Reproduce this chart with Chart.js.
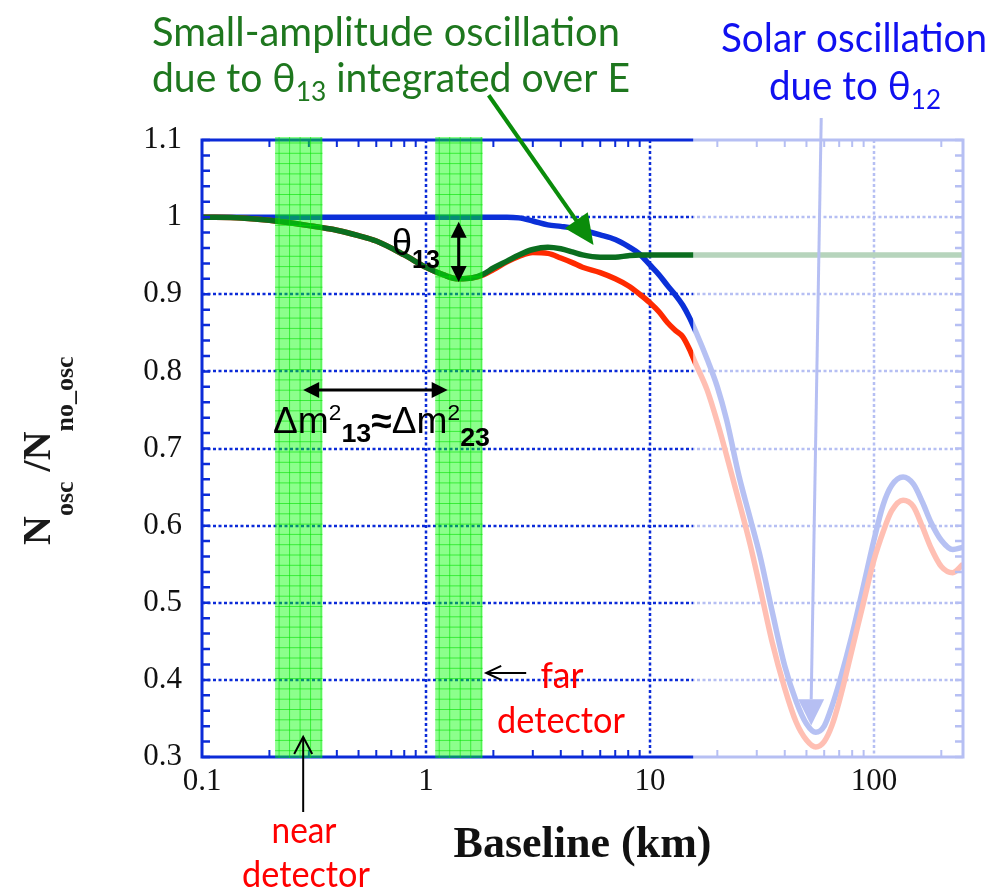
<!DOCTYPE html>
<html>
<head>
<meta charset="utf-8">
<script src="https://cdn.jsdelivr.net/npm/chart.js@4.4.0/dist/chart.umd.min.js"></script>
<style>
  body { margin: 0; background: #fff; }
  #wrap { width: 993px; height: 890px; }
</style>
</head>
<body>
<div id="wrap"><canvas id="osc" width="993" height="890"></canvas></div>
<script>
// baseline (km), shared by the three curves
const baselineKm = [0.1, 0.15, 0.2, 0.3, 0.4, 0.5, 0.6, 0.8,
  1.0, 1.2, 1.4, 1.6, 1.8, 2.0, 2.3, 2.6, 3.0, 3.5, 4.0, 4.5,
  5.0, 6.0, 7.0, 8.0, 9.0, 10, 11, 12, 13, 14, 15, 16, 18, 20, 22, 25, 28, 31, 35,
  40, 45, 50, 55, 60, 65, 70, 80, 90, 100, 110, 120, 135, 150, 165, 180, 200, 225, 250];

// N_osc / N_no_osc with theta13 only
const theta13Only = [1.000, 0.999, 0.996, 0.989, 0.983, 0.976, 0.969, 0.951,
  0.935, 0.925, 0.920, 0.921, 0.926, 0.934, 0.943, 0.951, 0.958, 0.961, 0.959, 0.955,
  0.951, 0.948, 0.948, 0.950, 0.951, 0.951, 0.951, 0.951, 0.951, 0.951, 0.951, 0.951, 0.951, 0.951, 0.951, 0.951, 0.951, 0.951, 0.951,
  0.951, 0.951, 0.951, 0.951, 0.951, 0.951, 0.951, 0.951, 0.951, 0.951, 0.951, 0.951, 0.951, 0.951, 0.951, 0.951, 0.951, 0.951, 0.951];

// theta13 + theta12
const bothAngles = [1.000, 0.999, 0.996, 0.989, 0.983, 0.976, 0.969, 0.951,
  0.935, 0.925, 0.920, 0.921, 0.925, 0.932, 0.942, 0.949, 0.954, 0.953, 0.947, 0.941,
  0.935, 0.928, 0.920, 0.911, 0.900, 0.889, 0.877, 0.863, 0.853, 0.845, 0.829, 0.810, 0.776, 0.734, 0.691, 0.631, 0.576, 0.520, 0.451,
  0.389, 0.345, 0.322, 0.313, 0.320, 0.341, 0.372, 0.440, 0.501, 0.555, 0.592, 0.619, 0.633, 0.625, 0.598, 0.571, 0.547, 0.539, 0.550];

// theta12 (solar) only
const theta12Only = [1.000, 1.000, 1.000, 1.000, 1.000, 1.000, 1.000, 1.000,
  1.000, 1.000, 1.000, 1.000, 1.000, 1.000, 1.000, 0.999, 0.995, 0.990, 0.988, 0.986,
  0.983, 0.977, 0.971, 0.962, 0.952, 0.938, 0.925, 0.911, 0.899, 0.886, 0.870, 0.852, 0.816, 0.780, 0.737, 0.664, 0.610, 0.561, 0.491,
  0.418, 0.372, 0.343, 0.332, 0.340, 0.366, 0.396, 0.459, 0.523, 0.581, 0.627, 0.652, 0.663, 0.654, 0.630, 0.604, 0.581, 0.569, 0.572];

// detector positions (km)
const nearBand = [0.212, 0.345];
const farBand = [1.10, 1.79];
// beyond this baseline everything is drawn washed out
const fadeFromKm = 15.6;

const axisBlue = '#0b2bd8';

function isDecade(v) {
  const l = Math.log10(v);
  return Math.abs(l - Math.round(l)) < 1e-6;
}

// draws a row of text pieces (sub/superscripts), optionally squeezed to a width
function drawRuns(ctx, x, y, parts, opts) {
  const o = opts || {};
  let w = 0;
  parts.forEach(p => { ctx.font = p.font; w += ctx.measureText(p.t).width; });
  const sx = o.width ? o.width / w : 1;
  let left = x;
  if (o.align === 'center') left = x - w * sx / 2;
  ctx.save();
  ctx.translate(left, y);
  ctx.scale(sx, 1);
  let cx = 0;
  parts.forEach(p => {
    ctx.font = p.font;
    ctx.fillStyle = p.color || o.color || '#000';
    ctx.fillText(p.t, cx, p.dy || 0);
    cx += ctx.measureText(p.t).width;
  });
  ctx.restore();
}

function arrowHead(ctx, x1, y1, x2, y2, len, half) {
  const a = Math.atan2(y2 - y1, x2 - x1);
  ctx.beginPath();
  ctx.moveTo(x2, y2);
  ctx.lineTo(x2 - len * Math.cos(a) + half * Math.sin(a), y2 - len * Math.sin(a) - half * Math.cos(a));
  ctx.lineTo(x2 - len * Math.cos(a) - half * Math.sin(a), y2 - len * Math.sin(a) + half * Math.cos(a));
  ctx.closePath();
  ctx.fill();
}

function openHead(ctx, x1, y1, x2, y2, len, half) {
  const a = Math.atan2(y2 - y1, x2 - x1);
  ctx.beginPath();
  ctx.moveTo(x2 - len * Math.cos(a) + half * Math.sin(a), y2 - len * Math.sin(a) - half * Math.cos(a));
  ctx.lineTo(x2, y2);
  ctx.lineTo(x2 - len * Math.cos(a) - half * Math.sin(a), y2 - len * Math.sin(a) + half * Math.cos(a));
  ctx.stroke();
}

const decor = {
  id: 'decor',
  beforeDatasetsDraw(chart) {
    const { ctx, chartArea: a, scales: { x, y } } = chart;
    ctx.save();
    ctx.strokeStyle = axisBlue;
    ctx.lineWidth = 2.5;
    ctx.setLineDash([3, 2.5]);
    y.ticks.forEach(t => {
      if (t.value < 0.31 || t.value > 1.09) return;
      const py = Math.round(y.getPixelForValue(t.value));
      ctx.beginPath(); ctx.moveTo(a.left, py); ctx.lineTo(a.right, py); ctx.stroke();
    });
    x.ticks.forEach(t => {
      if (!isDecade(t.value) || t.value < 0.5) return;
      const px = Math.round(x.getPixelForValue(t.value));
      ctx.beginPath(); ctx.moveTo(px, a.top); ctx.lineTo(px, a.bottom); ctx.stroke();
    });
    ctx.restore();
  },
  afterDatasetsDraw(chart) {
    const { ctx, chartArea: a, scales: { x, y } } = chart;
    ctx.save();
    ctx.textAlign = 'left';
    ctx.textBaseline = 'alphabetic';

    // frame
    ctx.strokeStyle = axisBlue;
    ctx.lineWidth = 3;
    ctx.strokeRect(a.left, a.top, a.right - a.left, a.bottom - a.top);

    // inward minor ticks
    ctx.lineWidth = 2.5;
    for (let v = 0.3; v <= 1.1001; v += 0.02) {
      const py = y.getPixelForValue(v);
      ctx.beginPath();
      ctx.moveTo(a.left, py); ctx.lineTo(a.left + 8, py);
      ctx.moveTo(a.right, py); ctx.lineTo(a.right - 8, py);
      ctx.stroke();
    }
    ctx.lineWidth = 2;
    [0.1, 1, 10, 100].forEach(d => {
      for (let k = 2; k <= 9; k++) {
        const v = k * d;
        if (v > 250) break;
        const px = x.getPixelForValue(v);
        ctx.beginPath();
        ctx.moveTo(px, a.bottom); ctx.lineTo(px, a.bottom - 7);
        ctx.moveTo(px, a.top); ctx.lineTo(px, a.top + 7);
        ctx.stroke();
      }
    });

    // detector bands with their fine grid
    [nearBand, farBand].forEach(b => {
      const x0 = x.getPixelForValue(b[0]);
      const x1 = x.getPixelForValue(b[1]);
      const top = a.top - 3, bot = a.bottom + 1;
      ctx.fillStyle = 'rgba(0,255,0,0.45)';
      ctx.fillRect(x0, top, x1 - x0, bot - top);
      ctx.strokeStyle = 'rgba(0,225,0,0.6)';
      ctx.lineWidth = 1;
      ctx.beginPath();
      for (let gx = x0 + 4; gx < x1; gx += 10.5) { ctx.moveTo(gx, top); ctx.lineTo(gx, bot); }
      for (let gy = top + 6; gy < bot; gy += 10.3) { ctx.moveTo(x0, gy); ctx.lineTo(x1, gy); }
      ctx.stroke();
    });

    // solar arrow down to the first theta12 minimum
    const sx0 = x.getPixelForValue(58.2), sy0 = y.getPixelForValue(1.1285);
    const sx1 = x.getPixelForValue(52.5), sy1 = y.getPixelForValue(0.375);
    ctx.strokeStyle = axisBlue;
    ctx.fillStyle = axisBlue;
    ctx.lineWidth = 3;
    ctx.beginPath(); ctx.moveTo(sx0, sy0); ctx.lineTo(sx1, sy1); ctx.stroke();
    ctx.beginPath();
    ctx.moveTo(x.getPixelForValue(45.9), sy1);
    ctx.lineTo(x.getPixelForValue(60), sy1);
    ctx.lineTo(x.getPixelForValue(52.5), y.getPixelForValue(0.341));
    ctx.closePath(); ctx.fill();

    // wash out the long-baseline part
    const fx = x.getPixelForValue(fadeFromKm);
    ctx.fillStyle = 'rgba(255,255,255,0.7)';
    ctx.fillRect(fx, a.top - 30, chart.width - fx, a.bottom - a.top + 33);

    // double arrows: theta13 depth and near-far distance
    ctx.strokeStyle = '#000';
    ctx.fillStyle = '#000';
    ctx.lineWidth = 3;
    const tx = x.getPixelForValue(1.4);
    const ty0 = y.getPixelForValue(0.994), ty1 = y.getPixelForValue(0.916);
    ctx.beginPath(); ctx.moveTo(tx, ty0 + 10); ctx.lineTo(tx, ty1 - 10); ctx.stroke();
    arrowHead(ctx, tx, ty1, tx, ty0, 16, 8);
    arrowHead(ctx, tx, ty0, tx, ty1, 16, 8);

    const dy = y.getPixelForValue(0.776);
    const dx0 = x.getPixelForValue(0.283), dx1 = x.getPixelForValue(1.25);
    ctx.beginPath(); ctx.moveTo(dx0 + 10, dy); ctx.lineTo(dx1 - 10, dy); ctx.stroke();
    arrowHead(ctx, dx1, dy, dx0, dy, 16, 8);
    arrowHead(ctx, dx0, dy, dx1, dy, 16, 8);

    // thin pointers to the detectors
    ctx.lineWidth = 2;
    const nx = x.getPixelForValue(0.283);
    ctx.beginPath(); ctx.moveTo(nx, 812); ctx.lineTo(nx, a.bottom - 20); ctx.stroke();
    openHead(ctx, nx, 812, nx, a.bottom - 20, 17, 9);
    const fy = y.getPixelForValue(0.4);
    const fx0 = x.getPixelForValue(1.82);
    ctx.beginPath(); ctx.moveTo(fx0 + 42, fy - 7); ctx.lineTo(fx0 + 2, fy - 7); ctx.stroke();
    openHead(ctx, fx0 + 42, fy - 7, fx0 + 2, fy - 7, 15, 7);

    // green pointer to the theta13 curve
    ctx.strokeStyle = '#0a8c0a';
    ctx.fillStyle = '#0a8c0a';
    ctx.lineWidth = 4;
    const gx0 = x.getPixelForValue(1.905), gy0 = y.getPixelForValue(1.158);
    const gx1 = x.getPixelForValue(5.6), gy1 = y.getPixelForValue(0.964);
    ctx.beginPath(); ctx.moveTo(gx0, gy0); ctx.lineTo(gx1 - 12, gy1 - 17); ctx.stroke();
    arrowHead(ctx, gx0, gy0, gx1, gy1, 30, 14);

    // labels
    const sans = "'Liberation Sans', Arial, sans-serif";
    drawRuns(ctx, 392, 255, [
      { t: 'θ', font: '36px ' + sans },
      { t: '13', font: 'bold 25px ' + sans, dy: 13 }
    ]);
    drawRuns(ctx, 273, 433, [
      { t: 'Δm', font: '36px ' + sans },
      { t: '2', font: '22px ' + sans, dy: -13 },
      { t: '13', font: 'bold 26px ' + sans, dy: 9 },
      { t: '≈', font: 'bold 36px ' + sans },
      { t: 'Δm', font: '36px ' + sans },
      { t: '2', font: '22px ' + sans, dy: -13 },
      { t: '23', font: 'bold 26px ' + sans, dy: 13 }
    ], { width: 217 });

    const cal = "Lato, 'Open Sans', sans-serif";
    const green = '#1e771e', blue = '#1010f0', red = '#ff0000';
    drawRuns(ctx, 152, 46, [{ t: 'Small-amplitude oscillation', font: '40px ' + cal }], { width: 468, color: green });
    drawRuns(ctx, 152, 92, [
      { t: 'due to θ', font: '40px ' + cal },
      { t: '13', font: '27px ' + cal, dy: 9 },
      { t: ' integrated over E', font: '40px ' + cal }
    ], { width: 478, color: green });
    drawRuns(ctx, 721, 52, [{ t: 'Solar oscillation', font: '40px ' + cal }], { width: 266, color: blue });
    drawRuns(ctx, 769, 100, [
      { t: 'due to θ', font: '40px ' + cal },
      { t: '12', font: '27px ' + cal, dy: 9 }
    ], { width: 172, color: blue });

    drawRuns(ctx, 562, 688, [{ t: 'far', font: '36px ' + cal }], { width: 43, align: 'center', color: red });
    drawRuns(ctx, 561, 733, [{ t: 'detector', font: '36px ' + cal }], { width: 128, align: 'center', color: red });
    drawRuns(ctx, 304, 843, [{ t: 'near', font: '36px ' + cal }], { width: 65, align: 'center', color: red });
    drawRuns(ctx, 306, 887, [{ t: 'detector', font: '36px ' + cal }], { width: 128, align: 'center', color: red });

    // axis titles
    const serif = "'Liberation Serif', 'Times New Roman', serif";
    drawRuns(ctx, (a.left + a.right) / 2, 857, [{ t: 'Baseline (km)', font: 'bold 44px ' + serif }], { align: 'center', color: '#111' });

    ctx.translate(50, 545);
    ctx.rotate(-Math.PI / 2);
    drawRuns(ctx, 0, 0, [
      { t: 'N', font: 'bold 40px ' + serif },
      { t: 'osc', font: 'bold 26px ' + serif, dy: 23 },
      { t: ' /N', font: 'bold 40px ' + serif },
      { t: 'no_osc', font: 'bold 26px ' + serif, dy: 23 }
    ], { color: '#1a1a1a' });
    ctx.restore();
  }
};

const toPoints = ys => baselineKm.map((k, i) => ({ x: k, y: ys[i] }));

new Chart(document.getElementById('osc'), {
  type: 'line',
  data: {
    datasets: [
      { label: 'θ13 only', data: toPoints(theta13Only), borderColor: '#0b6e1f' },
      { label: 'θ13 and θ12', data: toPoints(bothAngles), borderColor: '#ff2a00' },
      { label: 'θ12 only', data: toPoints(theta12Only), borderColor: '#0b30d8' }
    ]
  },
  options: {
    responsive: false,
    animation: false,
    layout: { padding: { top: 140, right: 30, left: 0, bottom: 0 } },
    plugins: { legend: { display: false }, tooltip: { enabled: false } },
    elements: {
      point: { radius: 0 },
      line: { borderWidth: 5.5, cubicInterpolationMode: 'monotone', fill: false }
    },
    scales: {
      x: {
        type: 'logarithmic',
        min: 0.1,
        max: 250,
        grid: { display: false, drawTicks: false },
        border: { display: false },
        afterFit: s => { s.height = 133; },
        ticks: {
          autoSkip: false,
          maxRotation: 0,
          padding: 6,
          color: '#111',
          font: { family: "'Liberation Serif', 'Times New Roman', serif", size: 31 },
          callback: v => isDecade(v) ? String(Number(v.toPrecision(6))) : ''
        }
      },
      y: {
        min: 0.3,
        max: 1.1,
        grid: { display: false, drawTicks: false },
        border: { display: false },
        afterFit: s => { s.width = 202; },
        ticks: {
          stepSize: 0.1,
          padding: 20,
          color: '#111',
          font: { family: "'Liberation Serif', 'Times New Roman', serif", size: 31 },
          callback: v => Math.abs(v - 1) < 1e-6 ? '1' : v.toFixed(1)
        }
      }
    }
  },
  plugins: [decor]
});
</script>
</body>
</html>
